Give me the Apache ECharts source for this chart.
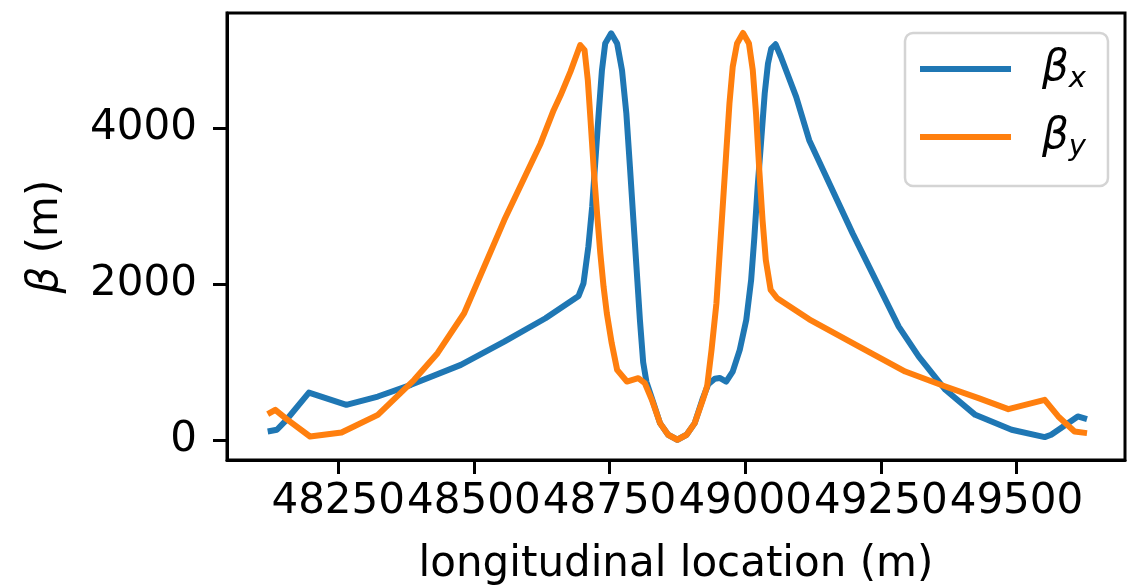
<!DOCTYPE html>
<html><head><meta charset="utf-8">
<script src="https://cdn.jsdelivr.net/npm/echarts@6/dist/echarts.min.js"></script>
<style>html,body{margin:0;padding:0;background:#fff}#c{width:1127px;height:587px}</style>
</head><body><div id="c"></div>
<script>
const xTicks = [48250, 48500, 48750, 49000, 49250, 49500];
const yTicks = [0, 2000, 4000];
const betaXPos = [48120,48137,48152,48196,48265,48323,48384,48476,48556,48632,48693,48702,48711,48718,48724,48730,48736,48742,48753,48764,48773,48781,48788,48794,48800,48806,48812,48818,48828,48843,48858,48875,48892,48907,48922,48932,48944,48953,48965,48977,48990,49002,49011,49017,49023,49030,49036,49042,49048,49056,49066,49094,49118,49198,49283,49320,49369,49424,49491,49552,49564,49613,49630];
const betaXVal = [115,137,243,613,456,562,712,967,1265,1564,1850,2011,2480,2990,3587,4184,4737,5079,5210,5079,4737,4184,3459,2820,2181,1542,1000,750,540,222,73,9,73,222,540,720,790,800,754,880,1159,1542,2054,2607,3246,3885,4440,4823,5015,5070,4907,4396,3843,2650,1457,1073,648,328,137,43,73,307,273];
const betaYPos = [48120,48134,48155,48198,48256,48323,48390,48433,48482,48556,48623,48647,48660,48678,48696,48704,48710,48715,48721,48727,48733,48739,48745,48754,48764,48782,48803,48815,48828,48843,48858,48875,48892,48907,48922,48930,48938,48947,48953,48959,48965,48971,48977,48985,48996,49007,49014,49020,49026,49032,49038,49047,49059,49118,49210,49295,49369,49430,49485,49552,49577,49607,49630];
const betaYVal = [337,392,273,51,102,328,776,1117,1628,2820,3801,4226,4420,4720,5060,4993,4610,4099,3459,2906,2395,1968,1628,1245,904,754,797,734,520,222,73,9,73,222,520,700,1159,1756,2395,3034,3673,4312,4780,5079,5214,5079,4737,4184,3459,2820,2309,1926,1820,1550,1201,882,690,542,401,520,307,115,94];

const F = 'DejaVu Sans';
const zip = (a, b) => a.map((v, i) => [v, b[i]]);
const chart = echarts.init(document.getElementById('c'), null, {renderer: 'canvas'});
chart.setOption({
  animation: false,
  backgroundColor: '#fff',
  grid: {left: 227, top: 13, right: 2, bottom: 127, show: true, borderColor: '#000', borderWidth: 3, backgroundColor: 'transparent', outerBoundsMode: 'none', containLabel: false},
  xAxis: {
    type: 'value', min: 48045, max: 49700,
    name: 'longitudinal location (m)', nameLocation: 'middle', nameGap: 84,
    nameTextStyle: {fontFamily: F, fontSize: 42, color: '#000'},
    axisLine: {show: true, onZero: false, lineStyle: {color: '#000', width: 3}},
    axisTick: {show: true, length: 14, lineStyle: {color: '#000', width: 3}, customValues: xTicks},
    axisLabel: {fontFamily: F, fontSize: 42, color: '#000', margin: 21, customValues: xTicks, formatter: v => String(v)},
    splitLine: {show: false}
  },
  yAxis: {
    type: 'value', min: -250, max: 5470,
    name: '{i|β} (m)', nameLocation: 'middle', nameGap: 160, nameRotate: 90,
    nameTextStyle: {fontFamily: F, fontSize: 42, color: '#000', rich: {i: {fontFamily: F, fontSize: 42, fontStyle: 'italic', color: '#000'}}},
    axisLine: {show: true, onZero: false, lineStyle: {color: '#000', width: 3}},
    axisTick: {show: true, length: 14, lineStyle: {color: '#000', width: 3}, customValues: yTicks},
    axisLabel: {fontFamily: F, fontSize: 42, color: '#000', margin: 30, customValues: yTicks, formatter: v => String(v)},
    splitLine: {show: false}
  },
  legend: {
    left: 905, top: 33, orient: 'vertical',
    itemWidth: 91, itemHeight: 6, itemGap: 18, icon: 'rect',
    padding: [11, 22, 24, 15],
    backgroundColor: 'rgba(255,255,255,0.8)', borderColor: '#d4d4d4', borderWidth: 2.5, borderRadius: 8,
    formatter: n => n === 'bx' ? '{b|β}{s|x}' : '{b|β}{s|y}',
    textStyle: {
      padding: [0, 0, 0, 26], height: 50, lineHeight: 50,
      rich: {
        b: {fontFamily: F, fontSize: 42, fontStyle: 'italic', color: '#000', lineHeight: 50},
        s: {fontFamily: F, fontSize: 29, fontStyle: 'italic', color: '#000', lineHeight: 30, verticalAlign: 'bottom'}
      }
    },
    data: ['bx', 'by']
  },
  series: [
    {name: 'bx', type: 'line', data: zip(betaXPos, betaXVal), showSymbol: false, symbol: 'none', lineStyle: {color: '#1f77b4', width: 6, join: 'round'}, itemStyle: {color: '#1f77b4'}, z: 2},
    {name: 'by', type: 'line', data: zip(betaYPos, betaYVal), showSymbol: false, symbol: 'none', lineStyle: {color: '#ff7f0e', width: 6, join: 'round'}, itemStyle: {color: '#ff7f0e'}, z: 3}
  ]
});
</script></body></html>
